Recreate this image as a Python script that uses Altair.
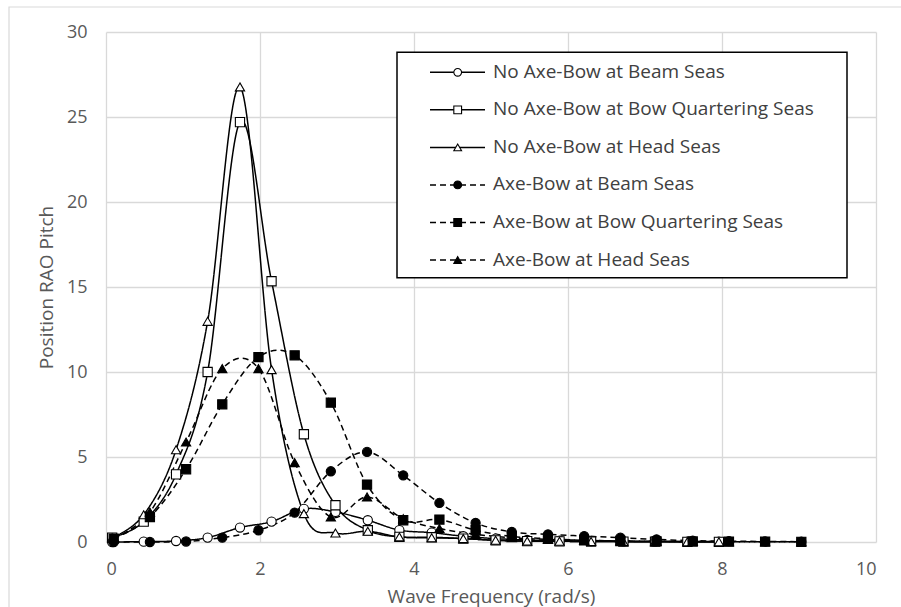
import altair as alt
import pandas as pd

# ---- data ----
series = [
    "No Axe-Bow at Beam Seas",
    "No Axe-Bow at Bow Quartering Seas",
    "No Axe-Bow at Head Seas",
    "Axe-Bow at Beam Seas",
    "Axe-Bow at Bow Quartering Seas",
    "Axe-Bow at Head Seas",
]

x_no_axe = [0.08, 0.49, 0.91, 1.32, 1.74, 2.15, 2.57, 2.98, 3.40, 3.81,
            4.23, 4.64, 5.06, 5.47, 5.89, 6.30, 6.72, 7.13, 7.55, 7.96]
x_axe = [0.10, 0.57, 1.04, 1.51, 1.98, 2.45, 2.92, 3.39, 3.86, 4.33,
         4.80, 5.27, 5.74, 6.21, 6.68, 7.15, 7.62, 8.09, 8.56, 9.03]

no_beam = [0.0, 0.02, 0.06, 0.26, 0.85, 1.20, 1.95, 1.77, 1.28, 0.70,
           0.55, 0.34, 0.20, 0.12, 0.08, 0.05, 0.04, 0.03, 0.02, 0.02]
no_bowq = [0.26, 1.20, 3.98, 10.0, 24.7, 15.34, 6.34, 2.16, 0.69, 0.30,
           0.28, 0.20, 0.10, 0.05, 0.04, 0.03, 0.02, 0.02, 0.01, 0.01]
no_head = [0.25, 1.60, 5.43, 12.98, 26.77, 10.14, 1.67, 0.53, 0.63, 0.30,
           0.25, 0.20, 0.10, 0.05, 0.04, 0.03, 0.02, 0.02, 0.01, 0.01]
axe_beam = [0.0, 0.0, 0.03, 0.26, 0.69, 1.73, 4.16, 5.30, 3.92, 2.30,
            1.12, 0.59, 0.45, 0.35, 0.25, 0.15, 0.08, 0.05, 0.03, 0.02]
axe_bowq = [0.20, 1.47, 4.28, 8.10, 10.88, 10.98, 8.20, 3.38, 1.28, 1.32,
            0.69, 0.33, 0.20, 0.10, 0.06, 0.04, 0.03, 0.02, 0.02, 0.01]
axe_head = [0.20, 1.76, 5.88, 10.2, 10.2, 4.67, 1.47, 2.65, 1.37, 0.79,
            0.45, 0.25, 0.15, 0.10, 0.06, 0.04, 0.03, 0.02, 0.02, 0.01]

x_ticks = [0, 2, 4, 6, 8, 10]
y_ticks = [0, 5, 10, 15, 20, 25, 30]

# ---- build table ----
values = [no_beam, no_bowq, no_head, axe_beam, axe_bowq, axe_head]
xs = [x_no_axe, x_no_axe, x_no_axe, x_axe, x_axe, x_axe]
rows = []
for name, xv, yv in zip(series, xs, values):
    for a, b in zip(xv, yv):
        rows.append({"series": name, "freq": a, "rao": b})
df = pd.DataFrame(rows)

leg_df = pd.DataFrame({"series": series, "row": list(range(len(series)))})

FONT = "Open Sans"
TXT = "#595959"

shape_scale = alt.Scale(domain=series,
                        range=["circle", "square", "triangle-up",
                               "circle", "square", "triangle-up"])
fill_scale = alt.Scale(domain=series,
                       range=["white", "white", "white", "black", "black", "black"])
dash_scale = alt.Scale(domain=series,
                       range=[[1, 0], [1, 0], [1, 0], [6, 4], [6, 4], [6, 4]])

x_scale = alt.Scale(domain=[0, 10], nice=False, zero=True, padding=0)
y_scale = alt.Scale(domain=[0, 30], nice=False, padding=0)

x_enc = alt.X("freq:Q", scale=x_scale,
              axis=alt.Axis(values=x_ticks, format="d", title="Wave Frequency (rad/s)",
                            titleX=385, titleY=60, titleBaseline="alphabetic",
                            labelPadding=18))
y_enc = alt.Y("rao:Q", scale=y_scale,
              axis=alt.Axis(values=y_ticks, format="d", title="Position RAO Pitch",
                            titleX=-54, titleY=255, titleBaseline="alphabetic",
                            titleAlign="center", titleAngle=270,
                            labelPadding=19))

frame = alt.Chart(pd.DataFrame({"a": [0]})).mark_rect(
    fillOpacity=0, stroke="#d9d9d9", strokeWidth=1.2
).encode(x=alt.value(-97), x2=alt.value(830), y=alt.value(-25), y2=alt.value(720))

lines = alt.Chart(df).mark_line(interpolate="cardinal", color="black",
                                strokeWidth=1.5).encode(
    x=x_enc, y=y_enc,
    detail="series:N",
    strokeDash=alt.StrokeDash("series:N", scale=dash_scale, legend=None),
)

points = alt.Chart(df).mark_point(filled=True, stroke="black", strokeWidth=1.1,
                                  opacity=1, size=85).encode(
    x=alt.X("freq:Q", scale=x_scale),
    y=alt.Y("rao:Q", scale=y_scale),
    shape=alt.Shape("series:N", scale=shape_scale, legend=None),
    fill=alt.Fill("series:N", scale=fill_scale, legend=None),
)

data_layer = alt.layer(lines, points)

leg_y = alt.Y("row:Q", scale=alt.Scale(domain=[0, 5], range=[40.3, 228]), axis=None)

leg_box = alt.Chart(pd.DataFrame({"a": [0]})).mark_rect(
    fill="white", stroke="black", strokeWidth=1.5
).encode(x=alt.value(291), x2=alt.value(741), y=alt.value(20.3), y2=alt.value(245.7))

leg_lines = alt.Chart(leg_df).mark_rule(color="black", strokeWidth=1.5).encode(
    x=alt.value(324), x2=alt.value(379), y=leg_y,
    strokeDash=alt.StrokeDash("series:N", scale=dash_scale, legend=None),
)
leg_pts = alt.Chart(leg_df).mark_point(filled=True, stroke="black", strokeWidth=1.1,
                                       opacity=1, size=60).encode(
    x=alt.value(351.7), y=leg_y,
    shape=alt.Shape("series:N", scale=shape_scale, legend=None),
    fill=alt.Fill("series:N", scale=fill_scale, legend=None),
)
leg_txt = alt.Chart(leg_df).mark_text(align="left", baseline="alphabetic", dy=5.5,
                                      font=FONT, fontSize=19, color="#404040").encode(
    x=alt.value(387), y=leg_y, text="series:N",
)

legend_layer = alt.layer(leg_lines, leg_pts, leg_txt)

chart = alt.layer(frame, data_layer, leg_box, legend_layer).resolve_scale(
    y="independent"
).properties(
    width=770, height=510,
    padding={"left": 106, "top": 32, "right": 25, "bottom": 65},
    autosize=alt.AutoSizeParams(type="none"),
    background="white",
).configure_view(stroke="transparent").configure_axis(
    grid=True, gridColor="#d9d9d9", gridWidth=1.3, domain=False, ticks=False,
    labelFont=FONT, labelFontSize=18, labelColor=TXT,
    titleFont=FONT, titleFontSize=19, titleColor=TXT, titleFontWeight="normal",
)

chart.save("out.html", embed_options={"renderer": "svg", "actions": False})
